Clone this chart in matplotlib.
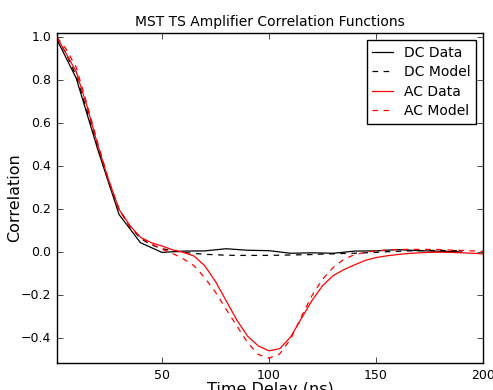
import matplotlib
matplotlib.use("Agg")
import matplotlib.pyplot as plt

plt.style.use("classic")
plt.rcParams["font.family"] = ["DejaVu Sans"]

# DC data (10 ns sampling)
t_dc = [1, 10, 20, 30, 40, 50, 60, 70, 80, 90, 100, 110, 120, 130, 140, 150, 160, 170, 180, 190]
dc_data = [0.99, 0.81, 0.48, 0.176, 0.045, 0.0, 0.006, 0.007, 0.017, 0.01, 0.008, -0.004, -0.002,
           -0.004, 0.006, 0.007, 0.013, 0.008, 0.005, 0.002]

# DC model
t_dcm = [1, 5, 10, 15, 20, 25, 30, 35, 40, 45, 50, 55, 60, 65, 70, 75, 80, 85, 90, 95, 100,
         105, 110, 115, 120, 125, 130, 135, 140, 145, 150, 155, 160, 165, 170, 175, 180, 185, 190]
dc_model = [1.0, 0.93, 0.82, 0.66, 0.49, 0.33, 0.2, 0.12, 0.065, 0.035, 0.018, 0.007, 0.0,
            -0.005, -0.009, -0.011, -0.013, -0.014, -0.014, -0.014, -0.014, -0.013, -0.012,
            -0.011, -0.01, -0.008, -0.007, -0.005, -0.004, -0.002, 0.0, 0.003, 0.005, 0.007,
            0.008, 0.009, 0.009, 0.008, 0.008]

# AC data and model
t_ac = [1, 5, 10, 15, 20, 25, 30, 35, 40, 45, 50, 55, 60, 65, 70, 75, 80, 85, 90, 95, 100,
        105, 110, 115, 120, 125, 130, 135, 140, 145, 150, 155, 160, 165, 170, 175, 180, 185,
        190, 195, 200]
ac_data = [1.0, 0.93, 0.84, 0.68, 0.5, 0.34, 0.2, 0.125, 0.07, 0.045, 0.03, 0.012, 0.0,
           -0.017, -0.062, -0.135, -0.225, -0.315, -0.39, -0.435, -0.458, -0.448, -0.395,
           -0.31, -0.225, -0.155, -0.108, -0.08, -0.058, -0.037, -0.024, -0.016, -0.01,
           -0.005, -0.002, 0.0, 0.001, 0.0, -0.002, -0.004, -0.007]
ac_model = [1.0, 0.95, 0.86, 0.69, 0.51, 0.34, 0.2, 0.12, 0.07, 0.04, 0.015, -0.005, -0.03,
            -0.062, -0.118, -0.185, -0.265, -0.342, -0.42, -0.475, -0.492, -0.472, -0.405,
            -0.302, -0.202, -0.125, -0.07, -0.032, -0.01, 0.0, 0.007, 0.011, 0.013, 0.014,
            0.014, 0.014, 0.013, 0.011, 0.009, 0.007, 0.005]

fig = plt.figure(figsize=(4.93, 3.9), dpi=100, facecolor="white")
ax = fig.add_axes([0.1156, 0.069, 0.8644, 0.846])
ax.set_facecolor("white")

dash = (4, 4)
ax.plot(t_dc, dc_data, color="black", linestyle="-", linewidth=0.9, label="DC Data")
ax.plot(t_dcm, dc_model, color="black", linestyle="--", dashes=dash, linewidth=0.9,
        label="DC Model")
ax.plot(t_ac, ac_data, color="red", linestyle="-", linewidth=0.9, label="AC Data")
ax.plot(t_ac, ac_model, color="red", linestyle="--", dashes=dash, linewidth=0.9,
        label="AC Model")

ax.set_xlim(1, 200)
ax.set_ylim(-0.515, 1.02)
ax.set_xticks([50, 100, 150, 200])
ax.set_yticks([-0.4, -0.2, 0.0, 0.2, 0.4, 0.6, 0.8, 1.0])
ax.tick_params(labelsize=9)
ax.set_title("MST TS Amplifier Correlation Functions", fontsize=10)
ax.set_xlabel("Time Delay (ns)", fontsize=11.5, labelpad=0)
ax.set_ylabel("Correlation", fontsize=11.5, labelpad=-1)
ax.legend(loc="upper right", fontsize=10, handlelength=1.5, numpoints=1,
          labelspacing=0.4)

fig.savefig("out.png", dpi=100, facecolor="white")
